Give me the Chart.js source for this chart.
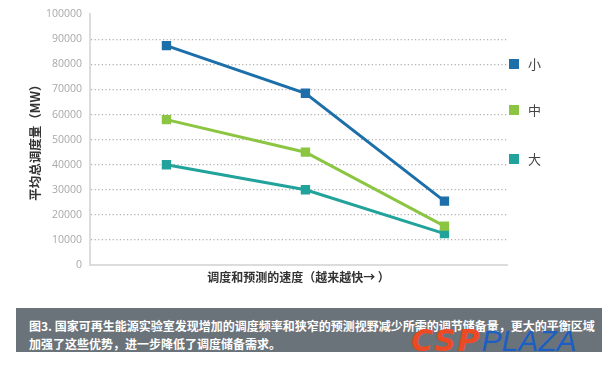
<!DOCTYPE html>
<html>
<head>
<meta charset="utf-8">
<script src="https://cdn.jsdelivr.net/npm/chart.js@4"></script>
<style>
  body { margin: 0; background: #fff; font-family: "Noto Sans CJK SC", sans-serif; }
  #wrap { position: relative; width: 610px; height: 370px; }
  #chartBox { position: absolute; left: 0; top: 0; width: 610px; height: 300px; }
  #legend { position: absolute; left: 509px; top: 54px; }
  .item { position: absolute; left: 0; display: flex; align-items: center; font-size: 13px; color: #444; white-space: nowrap; }
  .item i { display: inline-block; width: 10px; height: 10px; margin-right: 9px; }
  #caption { position: absolute; left: 16px; top: 308px; width: 586px; height: 44px; background: #6b737a;
    color: #fff; font-weight: bold; font-size: 12px; line-height: 18px; box-sizing: border-box; padding: 9px 0 0 13px; white-space: nowrap; }
  #mark { position: absolute; left: 411px; top: 322px; font-style: italic; font-size: 30px; line-height: 32px; white-space: nowrap; }
  #mark .a { color: #ec4a24; font-weight: 900; font-family: "DejaVu Sans", sans-serif; letter-spacing: 2px; }
  #mark .b { color: #1c5fc4; font-weight: normal; font-family: "Liberation Sans", sans-serif; letter-spacing: 0px; }
</style>
</head>
<body>
<div id="wrap">
  <div id="chartBox"><canvas id="c"></canvas></div>
  <div id="legend"></div>
  <div id="caption">图3. 国家可再生能源实验室发现增加的调度频率和狭窄的预测视野减少所需的调节储备量，更大的平衡区域<br>加强了这些优势，进一步降低了调度储备需求。</div>
  <div id="mark"><span class="a">CSP</span><span class="b">PLAZA</span></div>
</div>
<script>
const categories = ['慢', '中等', '快'];
const seriesNames = ['小', '中', '大'];
const small = [87500, 68500, 25500];
const medium = [58000, 45000, 15500];
const large = [40000, 30000, 12500];
const colors = ['#1c6fa9', '#8bc541', '#21a39b'];
const yTicks = [0, 10000, 20000, 30000, 40000, 50000, 60000, 70000, 80000, 90000, 100000];

const values = [small, medium, large];
const datasets = seriesNames.map((name, i) => ({
    label: name,
    data: values[i],
    borderColor: colors[i],
    backgroundColor: colors[i],
    borderWidth: 3,
    pointStyle: 'rect',
    pointRadius: 4.5,
    pointHoverRadius: 4.5,
    tension: 0
}));

// legend
const legend = document.getElementById('legend');
seriesNames.forEach((name, i) => {
    const d = document.createElement('div');
    d.className = 'item';
    d.style.top = [0, 46, 95][i] + 'px';
    d.innerHTML = '<i style="background:' + colors[i] + '"></i>' + name;
    legend.appendChild(d);
});

new Chart(document.getElementById('c'), {
    type: 'line',
    data: { labels: categories, datasets: datasets },
    options: {
        responsive: true,
        maintainAspectRatio: false,
        animation: false,
        layout: { padding: { left: 28, right: 103, top: 8, bottom: 11 } },
        plugins: {
            legend: { display: false },
            tooltip: { enabled: false }
        },
        scales: {
            x: {
                offset: true,
                // points sit a bit right of the category centres in the original
                afterDataLimits: s => { s.min = -0.05; s.max = 2.95; },
                grid: { display: false, drawTicks: false },
                border: { color: '#dcdcdc', width: 2 },
                ticks: { display: false },
                title: {
                    display: true,
                    text: '调度和预测的速度（越来越快→ ）',
                    color: '#333',
                    font: { family: 'Noto Sans CJK SC', size: 12, weight: 'bold' },
                    padding: { top: 3 }
                },
                afterFit: s => { s.height = 24; }
            },
            y: {
                min: 0,
                max: 100000,
                afterBuildTicks: s => { s.ticks = yTicks.map(v => ({ value: v })); },
                border: { color: '#dcdcdc', width: 2, dash: [1.2, 2.4] },
                grid: {
                    drawTicks: false,
                    color: c => (c.tick.value === 0 || c.tick.value === 100000) ? 'rgba(0,0,0,0)' : '#b0b0b0',
                    lineWidth: 1.2
                },
                ticks: {
                    color: '#a8a8a8',
                    padding: 8,
                    font: { family: 'Open Sans', size: 10.5 },
                    callback: v => String(v)
                },
                title: {
                    display: true,
                    text: '平均总调度量（MW）',
                    color: '#333',
                    font: { family: 'Noto Sans CJK SC', size: 12.5, weight: 'bold' },
                    padding: 0
                },
                afterFit: s => { s.width = 62; }
            }
        }
    }
});
</script>
</body>
</html>
